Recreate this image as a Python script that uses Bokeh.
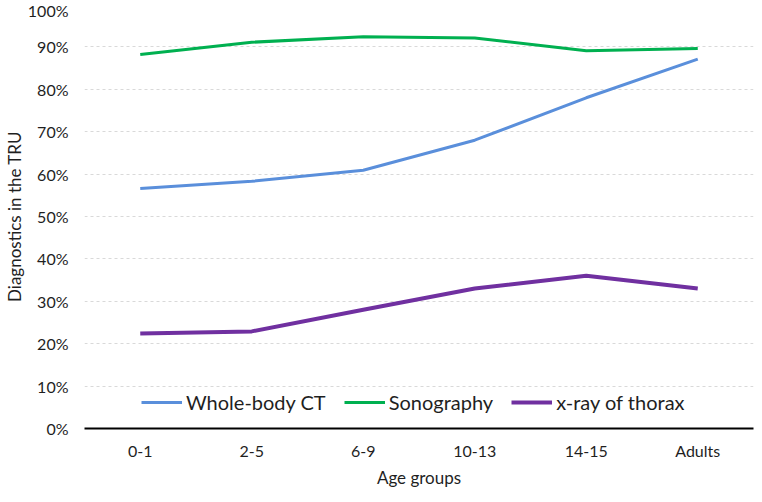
from bokeh.plotting import figure
from bokeh.models import FactorRange, FixedTicker, PrintfTickFormatter, Legend, LegendItem, Range1d
from bokeh.embed import file_html
from bokeh.resources import INLINE

categories = ["0-1", "2-5", "6-9", "10-13", "14-15", "Adults"]
whole_body_ct = [56.6, 58.3, 60.9, 68.0, 78.0, 87.1]
sonography = [88.2, 91.1, 92.4, 92.1, 89.1, 89.6]
xray_thorax = [22.4, 22.9, 28.0, 33.0, 36.0, 33.0]
y_ticks = [0, 10, 20, 30, 40, 50, 60, 70, 80, 90, 100]

FONT = "Lato"
TXT = "#1f1f1f"

p = figure(width=754, height=490, x_range=FactorRange(*categories),
           y_range=Range1d(0, 100), output_backend="svg", toolbar_location=None,
           min_border_left=78, min_border_right=1, min_border_top=4, min_border_bottom=40)
p.outline_line_color = None

r1 = p.line(categories, whole_body_ct, line_color="#5A8FDB", line_width=3)
r2 = p.line(categories, sonography, line_color="#00B050", line_width=3)
r3 = p.line(categories, xray_thorax, line_color="#7030A0", line_width=4)

p.xgrid.grid_line_color = None
p.ygrid.grid_line_color = "#d9d9d9"
p.ygrid.grid_line_dash = "3 3"
p.ygrid.grid_line_width = 1

p.yaxis.ticker = FixedTicker(ticks=y_ticks)
p.yaxis.formatter = PrintfTickFormatter(format="%d%%")
p.yaxis.axis_line_color = None
p.yaxis.axis_label = "Diagnostics in the TRU"
p.yaxis.axis_label_standoff = 0
p.yaxis.major_label_standoff = 16

p.xaxis.axis_line_color = "black"
p.xaxis.axis_line_width = 2
p.xaxis.axis_label = "Age groups"
p.xaxis.axis_label_standoff = 4
p.xaxis.major_label_standoff = 12
p.xaxis.axis_label_text_baseline = "bottom"

for ax in (p.xaxis[0], p.yaxis[0]):
    ax.major_tick_line_color = None
    ax.minor_tick_line_color = None
    ax.major_tick_in = 0
    ax.major_tick_out = 0
    ax.minor_tick_in = 0
    ax.minor_tick_out = 0
    ax.major_label_text_font = FONT
    ax.major_label_text_font_size = "16px"
    ax.major_label_text_color = TXT
    ax.major_label_text_line_height = 1.0
    ax.axis_label_text_font = FONT
    ax.axis_label_text_font_size = "17px"
    ax.axis_label_text_font_style = "normal"
    ax.axis_label_text_color = TXT
    ax.axis_label_text_line_height = 1.0

legend = Legend(items=[
    LegendItem(label="Whole-body CT", renderers=[r1]),
    LegendItem(label="Sonography", renderers=[r2]),
    LegendItem(label="x-ray of thorax", renderers=[r3]),
], orientation="horizontal", location=(57, 14))
legend.border_line_color = None
legend.background_fill_color = "white"
legend.background_fill_alpha = 1
legend.label_text_font = FONT
legend.label_text_font_size = "20px"
legend.label_text_color = TXT
legend.glyph_width = 41
legend.label_standoff = 4
legend.spacing = 18
legend.padding = 10
legend.margin = 0
p.add_layout(legend, "center")

open("out.html", "w").write(file_html(p, INLINE))
